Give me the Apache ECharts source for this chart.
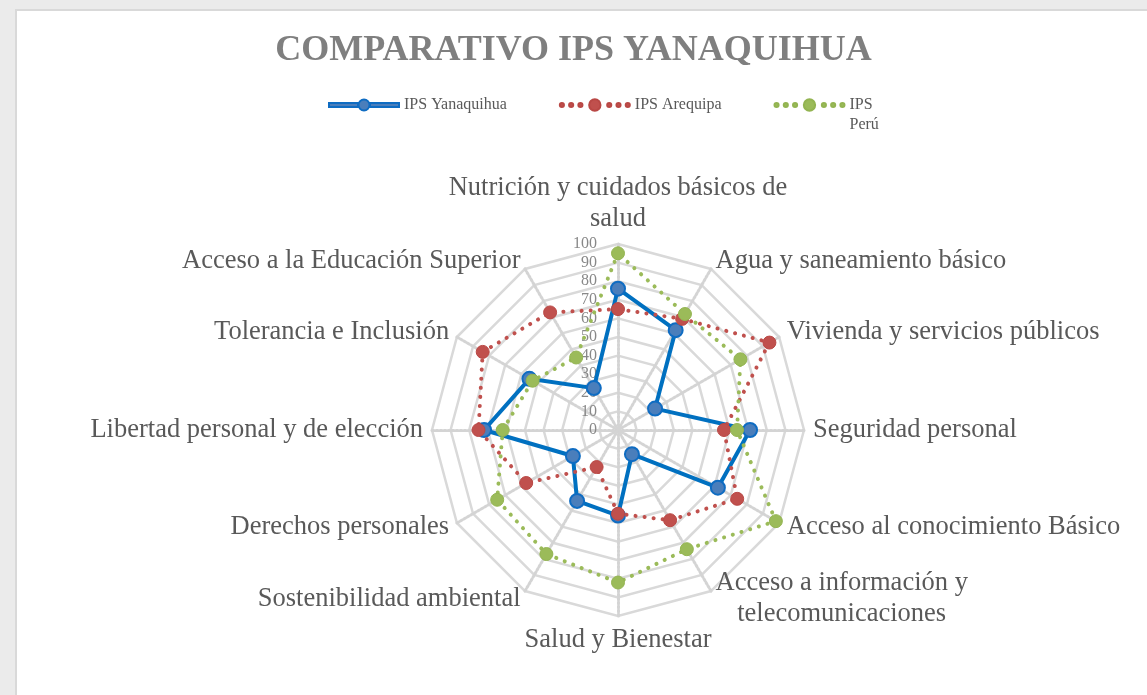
<!DOCTYPE html>
<html>
<head>
<meta charset="utf-8">
<script src="https://cdn.jsdelivr.net/npm/echarts@6/dist/echarts.min.js"></script>
<style>
  html, body { margin: 0; padding: 0; background: #ebebeb; overflow: hidden; }
  .frame { position: absolute; left: 15px; top: 9px; width: 1150px; height: 700px; background: #fff; border: 2px solid #d9d9d9; }
  #chart { position: absolute; left: 0; top: 0; width: 1147px; height: 695px; }
</style>
</head>
<body>
<div class="frame"></div>
<div id="chart"></div>
<script>
// categories in the order of the original sheet (clockwise from the top)
const categories = [
  'Nutrición y cuidados básicos de salud',
  'Agua y saneamiento básico',
  'Vivienda y servicios públicos',
  'Seguridad personal',
  'Acceso al conocimiento Básico',
  'Acceso a información y telecomunicaciones',
  'Salud y Bienestar',
  'Sostenibilidad ambiental',
  'Derechos personales',
  'Libertad personal y de elección',
  'Tolerancia e Inclusión',
  'Acceso a la Educación Superior'
]
const seriesNames = ['IPS Yanaquihua', 'IPS Arequipa', 'IPS Perú']
const yanaquihua = [76, 62, 23, 71, 62, 15, 46, 44, 28, 72, 55, 26]
const arequipa = [65, 69, 94, 57, 74, 56, 45, 23, 57, 75, 84, 73]
const peru = [95, 72, 76, 64, 98, 74, 82, 77, 75, 62, 53, 45]
const axisMax = 100
const axisSplits = 10

// echarts radar runs counter-clockwise, so keep the first and reverse the rest
const order = [0].concat(categories.map((c, i) => i).slice(1).reverse())
const reorder = arr => order.map(i => arr[i])

const serif = '"Liberation Serif", "Times New Roman", serif'
const nameStyle = { fontFamily: serif, fontSize: 26.5, color: '#595959', lineHeight: 31 }

// labels that wrap onto two lines in the original
function axisNameFormatter (name) {
  if (name === 'Nutrición y cuidados básicos de salud') {
    return 'Nutrición y cuidados básicos de\nsalud'
  }
  if (name === 'Acceso a información y telecomunicaciones') {
    return '{c|Acceso a información y}\n{c|telecomunicaciones}'
  }
  return name
}

function dot (x, y, r) {
  return `M${x - r},${y}a${r},${r} 0 1,0 ${2 * r},0a${r},${r} 0 1,0 ${-2 * r},0z`
}
const blueIcon = 'path://M0,4h29v4h-29z M41,4h29v4h-29z ' + dot(35, 6, 5.5)
const dotsIcon = 'path://' + [3, 12, 21, 49, 58, 67].map(x => dot(x, 6, 2)).join(' ') + ' ' + dot(35, 6, 5.5)

const myChart = echarts.init(document.getElementById('chart'))
const options = {
  title: {
    text: 'COMPARATIVO IPS YANAQUIHUA',
    left: 'center',
    top: 28,
    textStyle: {
      fontFamily: serif,
      fontSize: 36,
      fontWeight: 'bold',
      color: '#7f7f7f'
    }
  },
  legend: {
    left: 323,
    top: 70,
    itemWidth: 70,
    itemHeight: 12,
    itemGap: 52,
    textStyle: { fontFamily: serif, fontSize: 16, color: '#595959', lineHeight: 20 },
    formatter (name) {
      // the last entry wraps under itself in the original
      return name === 'IPS Perú' ? '\nIPS\nPerú' : name
    },
    data: [
      { name: seriesNames[0], icon: blueIcon },
      { name: seriesNames[1], icon: dotsIcon },
      { name: seriesNames[2], icon: dotsIcon }
    ]
  },
  radar: {
    center: [618, 430],
    radius: 186,
    startAngle: 90,
    splitNumber: axisSplits,
    shape: 'polygon',
    nameGap: 9,
    axisName: {
      ...nameStyle,
      formatter: axisNameFormatter,
      rich: {
        c: { ...nameStyle, align: 'center' }
      }
    },
    splitArea: { show: false },
    splitLine: { lineStyle: { color: '#d9d9d9', width: 2.5 } },
    axisLine: { lineStyle: { color: '#d4d4d4', width: 3, type: [2, 2] } },
    axisTick: { show: false },
    axisLabel: {
      show: false,
      fontFamily: serif,
      fontSize: 16,
      color: '#888888',
      margin: 21
    },
    indicator: reorder(categories).map((name, i) => ({
      name,
      min: 0,
      max: axisMax,
      axisLabel: { show: i === 0 }
    }))
  },
  series: [
    {
      name: seriesNames[0],
      type: 'radar',
      z: 2,
      symbol: 'circle',
      symbolSize: 14,
      lineStyle: { color: '#0070c0', width: 4 },
      itemStyle: { color: '#4a7ebb', borderColor: '#0f6cc2', borderWidth: 2 },
      data: [{ name: seriesNames[0], value: reorder(yanaquihua) }]
    },
    {
      name: seriesNames[1],
      type: 'radar',
      z: 3,
      symbol: 'circle',
      symbolSize: 13,
      lineStyle: { color: '#c0504d', width: 4, type: [0.1, 9], cap: 'round' },
      itemStyle: { color: '#c0504d', borderColor: '#b94845', borderWidth: 1 },
      data: [{ name: seriesNames[1], value: reorder(arequipa) }]
    },
    {
      name: seriesNames[2],
      type: 'radar',
      z: 4,
      symbol: 'circle',
      symbolSize: 13,
      lineStyle: { color: '#9bbb59', width: 4, type: [0.1, 9], cap: 'round' },
      itemStyle: { color: '#9bbb59', borderColor: '#93b451', borderWidth: 1 },
      data: [{ name: seriesNames[2], value: reorder(peru) }]
    }
  ]
}
myChart.setOption(options)
</script>
</body>
</html>
